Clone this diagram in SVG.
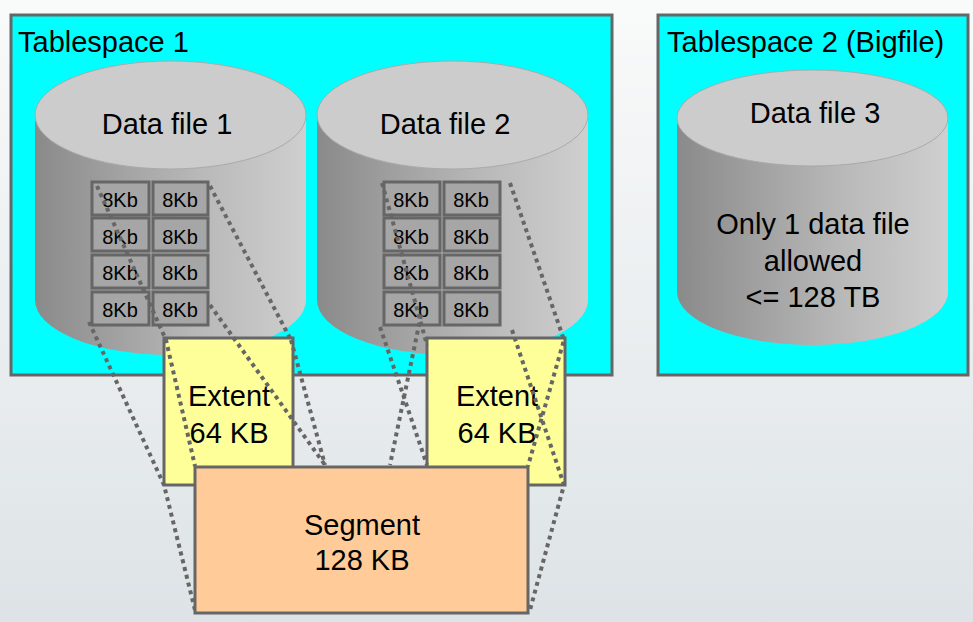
<svg xmlns="http://www.w3.org/2000/svg" width="973" height="622" viewBox="0 0 973 622">
<defs>
<linearGradient id="bg" x1="0" y1="0" x2="0" y2="1"><stop offset="0" stop-color="#f9fafa"/><stop offset="1" stop-color="#dde3e6"/></linearGradient>
<linearGradient id="cyl" x1="0" y1="0" x2="1" y2="0"><stop offset="0" stop-color="#8a8a8a"/><stop offset="0.6" stop-color="#b8b8b8"/><stop offset="1" stop-color="#cfcfcf"/></linearGradient>
<style>
.ts{fill:#00ffff;stroke:#666;stroke-width:3}
.top{fill:#cccccc;stroke:#aaa;stroke-width:1}
.cell{fill:#a6a6a6;stroke:#666;stroke-width:3}
.ct{font-family:"Liberation Sans",Arial,sans-serif;font-size:20px;text-anchor:middle}
.t{font-family:"Liberation Sans",Arial,sans-serif;font-size:29px;text-anchor:middle}
.l{font-family:"Liberation Sans",Arial,sans-serif;font-size:29px}
.dot{fill:none;stroke:#666;stroke-width:4;stroke-dasharray:4 4}
.box{stroke:#666;stroke-width:3}
</style>
</defs>
<rect width="973" height="622" fill="url(#bg)"/>
<g id="ts1"><rect class="ts" x="11" y="15" width="601" height="360"/>
<text x="18" y="52" class="l">Tablespace 1</text></g>
<g id="ts2"><rect class="ts" x="658" y="15" width="310" height="360"/>
<text x="667" y="52" class="l">Tablespace 2 (Bigfile)</text></g>
<g id="df1"><path d="M35 115 V300 A135.5 55 0 0 0 306 300 V115 Z" fill="url(#cyl)"/>
<ellipse class="top" cx="170.5" cy="115" rx="135.5" ry="54"/>
<text x="167" y="134" class="t">Data file 1</text></g>
<g id="df2"><path d="M317 115 V300 A135.5 55 0 0 0 588 300 V115 Z" fill="url(#cyl)"/>
<ellipse class="top" cx="452.5" cy="115" rx="135.5" ry="54"/>
<text x="445" y="134" class="t">Data file 2</text></g>
<g id="df3"><path d="M677 118 V292 A135.5 53 0 0 0 948 292 V118 Z" fill="url(#cyl)"/>
<ellipse class="top" cx="812.5" cy="118" rx="135.5" ry="48"/>
<text x="815" y="123" class="t">Data file 3</text>
<text x="813" y="234" class="t">Only 1 data file</text>
<text x="813" y="271" class="t">allowed</text>
<text x="813" y="307" class="t">&lt;= 128 TB</text></g>
<g id="blocks1">
<rect class="cell" x="92" y="182" width="57" height="33"/><rect class="cell" x="153" y="182" width="55" height="33"/>
<rect class="cell" x="92" y="218" width="57" height="33"/><rect class="cell" x="153" y="218" width="55" height="33"/>
<rect class="cell" x="92" y="255" width="57" height="33"/><rect class="cell" x="153" y="255" width="55" height="33"/>
<rect class="cell" x="92" y="292" width="57" height="33"/><rect class="cell" x="153" y="292" width="55" height="33"/>
<text class="ct" x="120" y="207">8Kb</text><text class="ct" x="180" y="207">8Kb</text>
<text class="ct" x="120" y="244">8Kb</text><text class="ct" x="180" y="244">8Kb</text>
<text class="ct" x="120" y="280">8Kb</text><text class="ct" x="180" y="280">8Kb</text>
<text class="ct" x="120" y="317">8Kb</text><text class="ct" x="180" y="317">8Kb</text></g>
<g id="blocks2">
<rect class="cell" x="384" y="182" width="56" height="33"/><rect class="cell" x="444" y="182" width="56" height="33"/>
<rect class="cell" x="384" y="218" width="56" height="33"/><rect class="cell" x="444" y="218" width="56" height="33"/>
<rect class="cell" x="384" y="255" width="56" height="33"/><rect class="cell" x="444" y="255" width="56" height="33"/>
<rect class="cell" x="384" y="292" width="56" height="33"/><rect class="cell" x="444" y="292" width="56" height="33"/>
<text class="ct" x="411" y="207">8Kb</text><text class="ct" x="471" y="207">8Kb</text>
<text class="ct" x="411" y="244">8Kb</text><text class="ct" x="471" y="244">8Kb</text>
<text class="ct" x="411" y="280">8Kb</text><text class="ct" x="471" y="280">8Kb</text>
<text class="ct" x="411" y="317">8Kb</text><text class="ct" x="471" y="317">8Kb</text></g>
<g id="extent1"><rect class="box" x="164" y="338" width="129" height="147" fill="#ffff99"/>
<text class="t" x="229" y="406">Extent</text><text class="t" x="229" y="443">64 KB</text></g>
<g id="extent2"><rect class="box" x="427" y="338" width="138" height="147" fill="#ffff99"/>
<text class="t" x="497" y="406">Extent</text><text class="t" x="497" y="443">64 KB</text></g>
<g id="connectors">
<polyline class="dot" points="97,186 166,340 195,466"/>
<polyline class="dot" points="89,322 164,485 195,610"/>
<polyline class="dot" points="210,186 291,340"/>
<polyline class="dot" points="291,340 325,465"/>
<polyline class="dot" points="210,305 325,465"/>
<polyline class="dot" points="382,183 427,345"/>
<polyline class="dot" points="380,327 427,465"/>
<polyline class="dot" points="421,315 390,465"/>
<polyline class="dot" points="510,183 564,340 528,466"/>
<polyline class="dot" points="512,330 564,485 530,610"/>
</g>
<g id="segment"><rect class="box" x="195" y="467" width="333" height="146" fill="#ffcc99"/>
<text class="t" x="362" y="535">Segment</text><text class="t" x="362" y="570">128 KB</text></g>
</svg>
